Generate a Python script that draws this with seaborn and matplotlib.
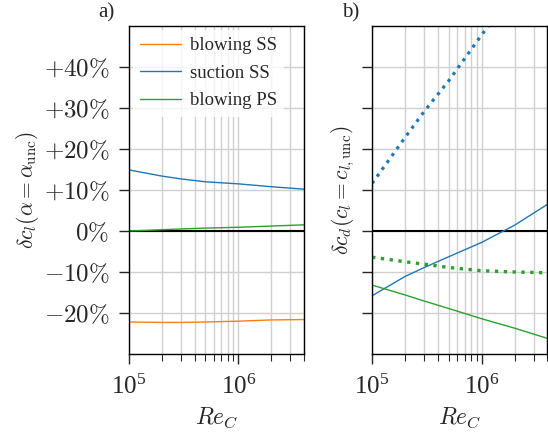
import matplotlib
matplotlib.use('Agg')
import matplotlib.pyplot as plt
import matplotlib.ticker as mticker
import seaborn as sns
import pandas as pd
import numpy as np

# Reynolds numbers (chord based)
re_c = [1e5, 2e5, 3e5, 5e5, 1e6, 2e6, 4e6]

# a) lift change at alpha = alpha_unc, in %
cl_blowing_ss = [-22.2, -22.3, -22.3, -22.2, -22.0, -21.7, -21.6]
cl_suction_ss = [14.9, 13.4, 12.7, 12.0, 11.5, 10.8, 10.2]
cl_blowing_ps = [0.0, 0.3, 0.5, 0.7, 0.9, 1.2, 1.5]

# b) drag change at cl = cl_unc, in %
cd_suction_ss = [-15.8, -11.1, -8.9, -6.3, -2.8, 1.4, 6.5]
cd_blowing_ps = [-13.2, -15.6, -17.1, -18.9, -21.4, -23.7, -26.2]
cd_suction_ss_dot = [11.6, 22.8, 29.2, 36.6, 47.8, 58.5, 69.5]
cd_blowing_ps_dot = [-6.4, -7.5, -8.1, -8.9, -9.7, -10.0, -10.2]

sns.set_style('ticks')
plt.rcParams['font.family'] = ['Liberation Serif', 'DejaVu Serif']
plt.rcParams['mathtext.fontset'] = 'cm'
plt.rcParams['axes.formatter.use_mathtext'] = True

c_orange = '#ff7f0e'
c_blue = '#1f77b4'
c_green = '#2ca02c'

df_a = pd.DataFrame({'Re': re_c, 'blowing SS': cl_blowing_ss,
                     'suction SS': cl_suction_ss, 'blowing PS': cl_blowing_ps})
df_b = pd.DataFrame({'Re': re_c, 'suction': cd_suction_ss, 'blowing': cd_blowing_ps,
                     'suction_dot': cd_suction_ss_dot, 'blowing_dot': cd_blowing_ps_dot})

fig = plt.figure(figsize=(5.48, 4.37), dpi=100)
ax1 = fig.add_axes([0.235, 0.19, 0.32, 0.7505])
ax2 = fig.add_axes([0.679, 0.19, 0.32, 0.7505], sharey=ax1)

# --- panel a ---
sns.lineplot(data=df_a, x='Re', y='blowing SS', color=c_orange, lw=1, ax=ax1, label='blowing SS')
sns.lineplot(data=df_a, x='Re', y='suction SS', color=c_blue, lw=1, ax=ax1, label='suction SS')
sns.lineplot(data=df_a, x='Re', y='blowing PS', color=c_green, lw=1, ax=ax1, label='blowing PS')

# --- panel b ---
sns.lineplot(data=df_b, x='Re', y='suction_dot', color=c_blue, lw=2.3, ls=':', ax=ax2)
sns.lineplot(data=df_b, x='Re', y='blowing_dot', color=c_green, lw=2.4, ls=':', ax=ax2)
sns.lineplot(data=df_b, x='Re', y='suction', color=c_blue, lw=1, ax=ax2)
sns.lineplot(data=df_b, x='Re', y='blowing', color=c_green, lw=1, ax=ax2)

def pct(v, pos):
    v = int(round(v))
    if v > 0:
        return r'$+%d\%%$' % v
    if v < 0:
        return r'$-%d\%%$' % abs(v)
    return r'$0\%$'

for ax in (ax1, ax2):
    ax.axhline(0, color='black', lw=1.5, zorder=1.5)
    ax.set_xscale('log')
    ax.set_xlim(1e5, 4e6)
    ax.set_ylim(-30, 50)
    ax.yaxis.set_major_locator(mticker.FixedLocator([-20, -10, 0, 10, 20, 30, 40]))
    ax.xaxis.set_major_locator(mticker.LogLocator(base=10))
    ax.xaxis.set_minor_locator(mticker.LogLocator(base=10, subs=np.arange(2, 10)))
    ax.xaxis.set_minor_formatter(mticker.NullFormatter())
    ax.grid(True, which='major', color='#d0d0d0', lw=1)
    ax.grid(True, which='minor', axis='x', color='#d0d0d0', lw=1)
    ax.tick_params(which='major', length=7, width=1, labelsize=18, direction='out')
    ax.tick_params(axis='y', pad=7)
    ax.tick_params(axis='x', pad=8)
    ax.tick_params(which='minor', length=5, width=0.8, direction='out')
    for s in ax.spines.values():
        s.set_color('black')
        s.set_linewidth(1)
    ax.set_xlabel(r'$Re_C$', fontsize=17, labelpad=5)

ax1.yaxis.set_major_formatter(mticker.FuncFormatter(pct))
ax2.tick_params(labelleft=False)

ax1.set_ylabel(r'$\delta c_l(\alpha = \alpha_{\rm unc})$', fontsize=15.5, labelpad=2)
ax2.set_ylabel(r'$\delta c_d(c_l = c_{l,\rm unc})$', fontsize=15.5, labelpad=4)

leg = ax1.legend(loc='upper left', fontsize=13.5, frameon=True, framealpha=0.8,
                 edgecolor='none', fancybox=False, handlelength=2.2, handletextpad=0.45,
                 borderpad=0.4, labelspacing=0.55, borderaxespad=0.2)

ax1.text(-0.126, 1.01, 'a)', transform=ax1.transAxes, fontsize=15, ha='center', va='bottom')
ax2.text(-0.125, 1.01, 'b)', transform=ax2.transAxes, fontsize=15, ha='center', va='bottom')

fig.savefig('out.png', dpi=100)
